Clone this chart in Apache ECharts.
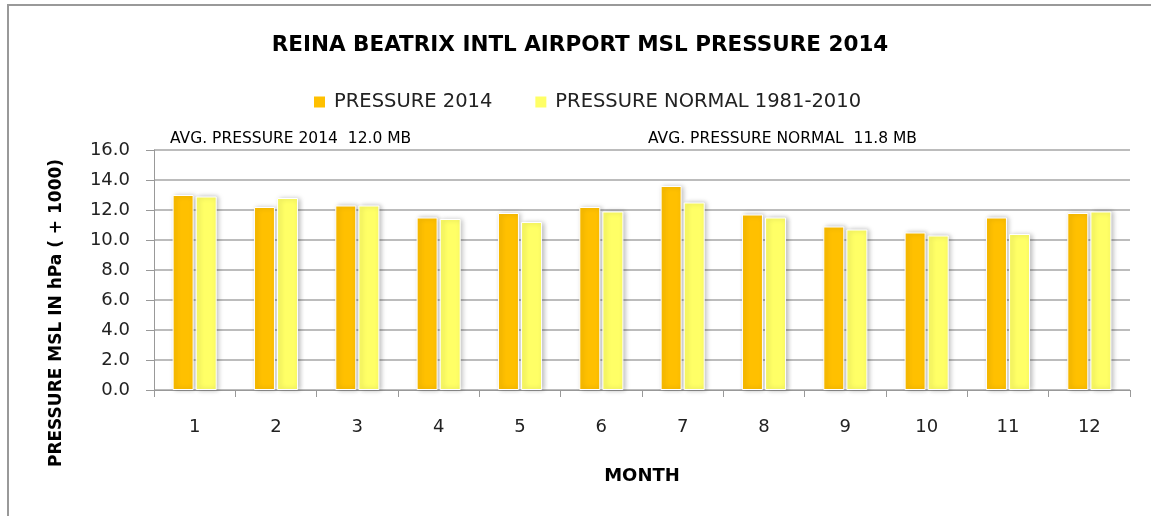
<!DOCTYPE html>
<html>
<head>
<meta charset="utf-8">
<script src="https://cdn.jsdelivr.net/npm/echarts@6/dist/echarts.min.js"></script>
<style>html,body{margin:0;padding:0;background:#fff}#c{width:1151px;height:516px}</style>
</head>
<body>
<div id="c"></div>
<script>
var months = ['1','2','3','4','5','6','7','8','9','10','11','12'];
var pressure2014 = [13.0, 12.2, 12.3, 11.5, 11.8, 12.2, 13.6, 11.7, 10.9, 10.5, 11.5, 11.8];
var pressureNormal = [12.9, 12.8, 12.3, 11.4, 11.2, 11.9, 12.5, 11.5, 10.7, 10.3, 10.4, 11.9];
var seriesNames = ['PRESSURE 2014', 'PRESSURE NORMAL 1981-2010'];
var chartTitle = 'REINA BEATRIX INTL AIRPORT MSL PRESSURE 2014';
var note2014 = 'AVG. PRESSURE 2014  12.0 MB';
var noteNormal = 'AVG. PRESSURE NORMAL  11.8 MB';
var yName = 'PRESSURE MSL IN hPa ( + 1000)';
var xName = 'MONTH';

var FONT = '"DejaVu Sans", sans-serif';
var chart = echarts.init(document.getElementById('c'));
var barStyle = function (c) {
  return { color: c, borderColor: '#ffffff', borderWidth: 1,
    shadowColor: 'rgba(0,0,0,0.28)', shadowBlur: 5, shadowOffsetX: 2, shadowOffsetY: 0 };
};
chart.setOption({
  animation: false,
  textStyle: { fontFamily: FONT },
  title: {
    text: chartTitle, left: 580, top: 34, textAlign: 'center', padding: 0,
    textStyle: { fontFamily: FONT, fontSize: 21.5, fontWeight: 'bold', color: '#000' }
  },
  legend: {
    left: 312, top: 92, padding: 0, itemWidth: 13, itemHeight: 13, itemGap: 41,
    icon: 'rect',
    textStyle: { fontFamily: FONT, fontSize: 19.5, color: '#222', padding: [0, 0, 0, 3] },
    data: seriesNames
  },
  graphic: [
    { type: 'rect', shape: { x: 8, y: 5, width: 1160, height: 520 }, style: { fill: 'none', stroke: '#999', lineWidth: 2 }, silent: true },
    { type: 'text', left: 170, top: 131, style: { text: note2014, font: '15.5px ' + FONT, fill: '#000' } },
    { type: 'text', left: 648, top: 131, style: { text: noteNormal, font: '15.5px ' + FONT, fill: '#000' } },
    { type: 'text', x: 57, y: 313, rotation: Math.PI / 2,
      style: { text: yName, font: 'bold 17px ' + FONT, fill: '#000', align: 'center', verticalAlign: 'middle' } }
  ],
  grid: { left: 154, right: 21, top: 150, bottom: 126 },
  xAxis: {
    type: 'category', data: months,
    name: xName, nameLocation: 'middle', nameGap: 77,
    nameTextStyle: { fontFamily: FONT, fontSize: 18, fontWeight: 'bold', color: '#000' },
    axisLine: { lineStyle: { color: '#999' } },
    axisTick: { show: true, length: 7, lineStyle: { color: '#999' } },
    axisLabel: { margin: 28, fontSize: 18, color: '#222', fontFamily: FONT }
  },
  yAxis: {
    type: 'value', min: 0, max: 16, interval: 2,
    axisLine: { show: true, lineStyle: { color: '#999' } },
    axisTick: { show: true, length: 8, lineStyle: { color: '#999' } },
    axisLabel: { margin: 24, fontSize: 18, color: '#222', fontFamily: FONT,
      formatter: function (v) { return v.toFixed(1); } },
    splitLine: { lineStyle: { color: '#a6a6a6', width: 1.5 } }
  },
  series: [
    { name: seriesNames[0], type: 'bar', data: pressure2014, barWidth: 21, barGap: '10%', itemStyle: barStyle('#FFC000') },
    { name: seriesNames[1], type: 'bar', data: pressureNormal, barWidth: 21, barGap: '10%', itemStyle: barStyle('#FFFF66') }
  ]
});
</script>
</body>
</html>
